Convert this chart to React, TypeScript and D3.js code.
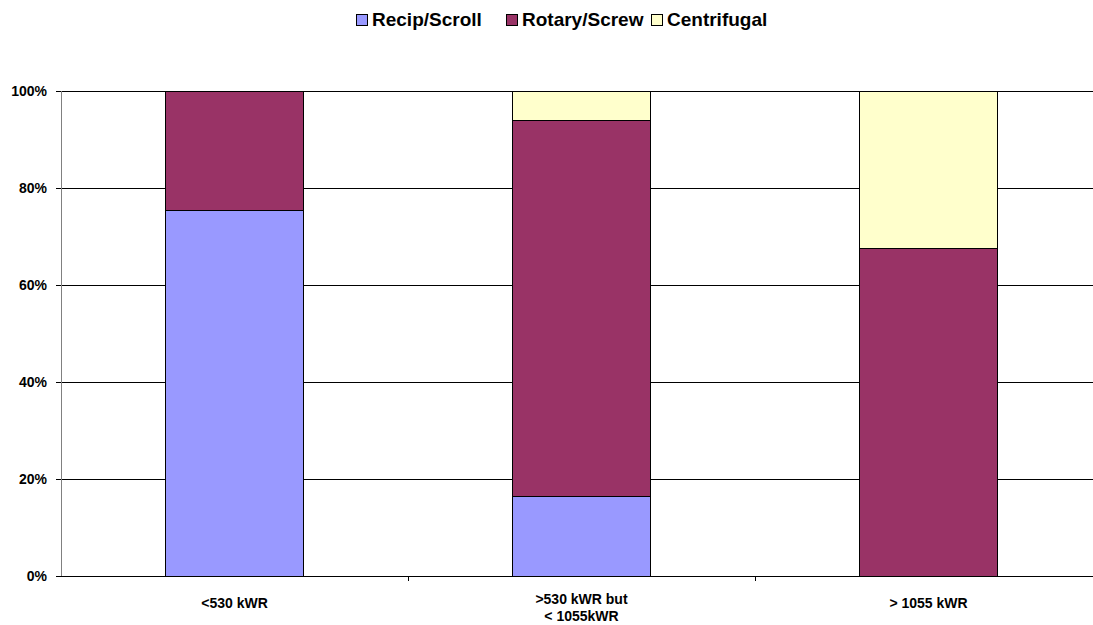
import React from "react";
import * as d3 from "d3";

const categories: string[][] = [["<530 kWR"], [">530 kWR but", "< 1055kWR"], ["> 1055 kWR"]];
const seriesNames = ["Recip/Scroll", "Rotary/Screw", "Centrifugal"];
const seriesColors = ["#9999FF", "#993366", "#FFFFCC"];
const recip = [75.3, 16.3, 0];
const rotary = [24.7, 77.7, 67.6];
const centrifugal = [0, 6.0, 32.4];
const yTicks = [0, 20, 40, 60, 80, 100];

const W = 1093;
const H = 625;
const left = 61;
const right = 1102;
const top = 91;
const bottom = 576;

export default function App() {
  const keys = categories.map((_, i) => String(i));
  const x = d3.scaleBand<string>().domain(keys).range([left, right]).paddingInner(0).paddingOuter(0);
  const y = d3.scaleLinear().domain([0, 100]).range([bottom, top]);
  const rows = keys.map((k, i) => ({ key: k, s0: recip[i], s1: rotary[i], s2: centrifugal[i] }));
  const stacked = d3.stack<any>().keys(["s0", "s1", "s2"])(rows);
  const bw = x.bandwidth() * 0.4;
  const font = "Arial, 'Liberation Sans', sans-serif";

  const legendSwatchX = [356, 506, 651];

  return (
    <svg width={W} height={H} style={{ position: "absolute", left: 0, top: 0 }} fontFamily={font}>
      <rect width={W} height={H} fill="#fff" />
      {/* grid lines */}
      {yTicks.filter((t) => t > 0).map((t) => (
        <line key={t} x1={left} x2={right} y1={y(t)} y2={y(t)} stroke="#000" strokeWidth={1} shapeRendering="crispEdges" />
      ))}
      {/* bars */}
      {stacked.map((layer, si) =>
        layer.map((d, ci) => {
          const h = y(d[0]) - y(d[1]);
          if (h <= 0) return null;
          const cx = (x(keys[ci]) as number) + x.bandwidth() / 2;
          return (
            <rect
              key={`${si}-${ci}`}
              x={cx - bw / 2}
              y={y(d[1])}
              width={bw}
              height={h}
              fill={seriesColors[si]}
              stroke="#000"
              strokeWidth={1}
              shapeRendering="crispEdges"
            />
          );
        })
      )}
      {/* axes */}
      <line x1={left} x2={left} y1={top} y2={bottom} stroke="#808080" strokeWidth={1} shapeRendering="crispEdges" />
      <line x1={left} x2={right} y1={bottom} y2={bottom} stroke="#000" strokeWidth={1} shapeRendering="crispEdges" />
      {yTicks.map((t) => (
        <g key={t}>
          <line x1={left - 5} x2={left} y1={y(t)} y2={y(t)} stroke="#000" shapeRendering="crispEdges" />
          <text x={47} y={y(t) + 5} textAnchor="end" fontSize={14} fontWeight="bold">
            {t}%
          </text>
        </g>
      ))}
      {keys.map((k) => (
        <line key={k} x1={(x(k) as number) + x.bandwidth()} x2={(x(k) as number) + x.bandwidth()} y1={bottom} y2={bottom + 5} stroke="#000" shapeRendering="crispEdges" />
      ))}
      {categories.map((lines, i) => {
        const cx = (x(keys[i]) as number) + x.bandwidth() / 2;
        const y0 = lines.length > 1 ? 604 : 608;
        return (
          <text key={i} x={cx} y={y0} textAnchor="middle" fontSize={14} fontWeight="bold">
            {lines.map((l, j) => (
              <tspan key={j} x={cx} dy={j === 0 ? 0 : 17}>
                {l}
              </tspan>
            ))}
          </text>
        );
      })}
      {/* legend */}
      {seriesNames.map((n, i) => (
        <g key={n} transform={`translate(${legendSwatchX[i]},0)`}>
          <rect x={0} y={14} width={11} height={11} fill={seriesColors[i]} stroke="#000" strokeWidth={1} shapeRendering="crispEdges" />
          <text x={16} y={26} fontSize={19} fontWeight="bold">
            {n}
          </text>
        </g>
      ))}
    </svg>
  );
}
